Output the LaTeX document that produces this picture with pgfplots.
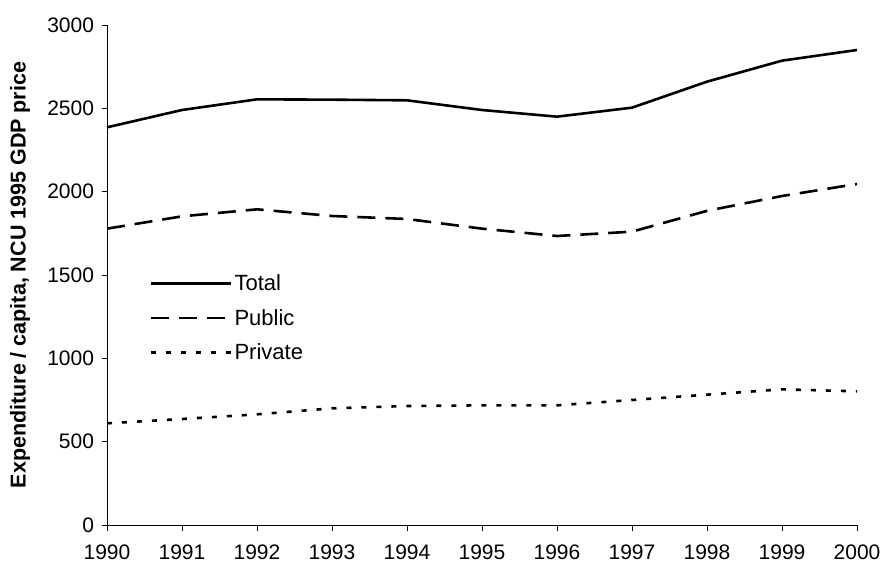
\documentclass[border=0pt]{standalone}
\usepackage{pgfplots}
\pgfplotsset{compat=1.18}
\usepackage{fontspec}
\setmainfont{Liberation Sans}

\begin{document}
\begin{tikzpicture}
\begin{axis}[
    scale only axis,
    width=750bp, height=500bp,
    xmin=1990, xmax=2000,
    ymin=0, ymax=3000,
    xtick={1990,1991,...,2000},
    ytick={0,500,...,3000},
    axis lines=left,
    axis line style={-, line width=0.8bp},
    tick align=outside,
    major tick length=5.5bp,
    tick style={line width=0.8bp, black},
    /pgf/number format/assume math mode=true,
    x tick label style={/pgf/number format/1000 sep={}, yshift=-11bp},
    y tick label style={/pgf/number format/1000 sep={}, xshift=-4bp},
    tick label style={font=\fontsize{21bp}{24bp}\selectfont},
    ylabel={\textbf{Expenditure / capita, NCU 1995 GDP price}},
    ylabel style={font=\fontsize{21.5bp}{24bp}\selectfont, at={(axis description cs:-0.116,0.5)}, anchor=center},
    legend style={draw=none, fill=none, at={(axis description cs:0.057,0.505)}, anchor=north west,
        font=\fontsize{22bp}{25bp}\selectfont, row sep=13bp, inner sep=0pt},
    legend cell align=left,
    legend image code/.code={\draw[#1] (0bp,0bp) -- (80bp,0bp);},
    clip=false,
]
\addplot[black, line width=2.6bp] coordinates {
 (1990,2386) (1991,2490) (1992,2554) (1993,2552) (1994,2548) (1995,2490)
 (1996,2450) (1997,2504) (1998,2660) (1999,2786) (2000,2850)
};
\addlegendentry{Total}
\addplot[black, line width=2.6bp, dash pattern=on 18bp off 10bp] coordinates {
 (1990,1778) (1991,1852) (1992,1894) (1993,1854) (1994,1836) (1995,1778)
 (1996,1734) (1997,1760) (1998,1885) (1999,1974) (2000,2046)
};
\addlegendentry{Public}
\addplot[black, line width=2.6bp, dash pattern=on 5bp off 10bp] coordinates {
 (1990,610) (1991,636) (1992,664) (1993,700) (1994,714) (1995,718)
 (1996,718) (1997,750) (1998,782) (1999,814) (2000,802)
};
\addlegendentry{Private}
\end{axis}
\pgfresetboundingbox
\path (current axis.south west) ++(-107bp,-42bp) rectangle ++(881bp,567bp);
\end{tikzpicture}
\end{document}
